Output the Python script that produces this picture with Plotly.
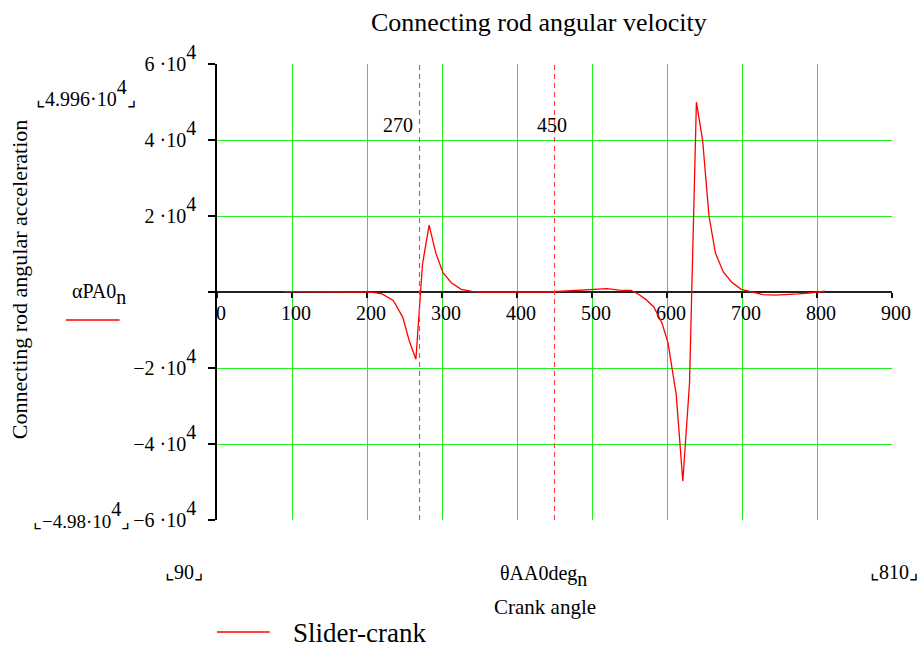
import plotly.graph_objects as go

# Crank angle samples (deg) and connecting rod angular acceleration (rad/s^2)
crank_angle = [90, 100, 120, 140, 160, 180, 200, 210, 220, 235, 247.6, 256.4, 265.2,
               274, 282.8, 291.7, 301.3, 312.4, 325.6, 340, 350, 380, 410, 440,
               460, 472, 498, 510, 520, 536, 552, 562, 572, 582.4, 593.5, 601.3,
               612.3, 621.1, 630, 639.2, 647.5, 656, 664.5, 675, 686, 699, 712,
               728, 745, 759, 775, 789, 800, 811]
alpha_rod = [100, 100, 100, 100, 100, 100, 0, -150, -500, -2200, -6600, -12900, -17700,
             7300, 17600, 10300, 5080, 2450, 700, 150, 0, 0, 0, 0,
             200, 340, 600, 650, 900, 500, 400, -600, -2000, -3950, -8300, -13300,
             -27000, -49800, -24000, 49960, 39900, 20000, 10300, 5260, 2630, 700, 0,
             -700, -800, -700, -500, -260, 0, 200]

marker_angles = [270, 450]
x_ticks = [0, 100, 200, 300, 400, 500, 600, 700, 800, 900]
y_ticks = [-60000, -40000, -20000, 0, 20000, 40000, 60000]

FONT = "Liberation Serif"
GRID = "#22ee22"
FS = 20


def sup(t, size=FS):
    # full-size raised exponent: sup shrinks to 70% of its parent, so enlarge the parent
    return "<span style='font-size:%.2fpx'><sup>%s</sup></span>" % (size / 0.7, t)


def sub(t, size=FS):
    return "<span style='font-size:%.2fpx'><sub>%s</sub></span>" % (size / 0.7, t)


def sci(m):
    return "%s \u00b710%s" % (m, sup("4")) if m else ""


y_tick_text = [sci(m) for m in ["\u22126", "\u22124", "\u22122", "", "2", "4", "6"]]

fig = go.Figure()
fig.add_trace(go.Scatter(x=crank_angle, y=alpha_rod, mode="lines",
                         line=dict(color="#ff0000", width=1.3), showlegend=False))

# dashed reference angles
for a in marker_angles:
    fig.add_shape(type="line", x0=a, x1=a, y0=-60000, y1=60000, xref="x", yref="y",
                  line=dict(color="#ff3b3b", width=1.1, dash="5px,4px"))
fig.add_annotation(x=270, y=44000, xref="x", yref="y", text=str(marker_angles[0]), showarrow=False,
                   xanchor="right", xshift=-5, font=dict(family=FONT, size=FS, color="black"))
fig.add_annotation(x=450, y=44000, xref="x", yref="y", text=str(marker_angles[1]), showarrow=False,
                   xanchor="center", xshift=-3, font=dict(family=FONT, size=FS, color="black"))

fig.update_xaxes(range=[0, 900], tickvals=x_ticks, ticktext=[str(v) for v in x_ticks],
                 anchor="free", position=0.5, showline=True, linecolor="#222222", linewidth=2,
                 ticks="outside", ticklen=5, tickcolor="#111111", tickwidth=1.5,
                 ticklabelshift=4, ticklabelstandoff=-2,
                 showgrid=True, gridcolor=GRID, gridwidth=1, zeroline=False,
                 layer="below traces",
                 tickfont=dict(family=FONT, size=FS, color="black"))
fig.update_yaxes(range=[-60000, 60000], tickvals=y_ticks, ticktext=y_tick_text,
                 showline=True, linecolor="black", linewidth=1.5,
                 ticks="outside", ticklen=7, tickcolor="black", tickwidth=1.5,
                 ticklabelstandoff=8,
                 showgrid=True, gridcolor=GRID, gridwidth=1, zeroline=False,
                 tickfont=dict(family=FONT, size=FS, color="black"))

L, T, W, H = 217, 64, 679, 456


def px(xp, yp):
    return (xp - L) / W, 1 - (yp - T) / H


def label(text, xp, yp, size=FS, xanchor="center", **kw):
    x, y = px(xp, yp)
    fig.add_annotation(text=text, x=x, y=y, xref="paper", yref="paper", showarrow=False,
                       xanchor=xanchor, yanchor="middle",
                       font=dict(family=FONT, size=size, color="black"), **kw)


label("Connecting rod angular velocity", 541, 22, size=26)
label("Connecting rod angular acceleration", 18, 280, size=22, textangle=-90)
label("\u231e4.996\u00b710" + sup("4") + "\u231f", 85, 93)
label("\u231e\u22124.98\u00b710" + sup("4") + "\u231f", 81, 515, size=19)
label("\u03b1PA0" + sub("n"), 98, 294)
label("\u231e90\u231f", 184, 572)
label("\u03b8AA0deg" + sub("n"), 545, 576)
label("\u231e810\u231f", 898, 572)
label("Crank angle", 547, 607, size=21)
label("Slider-crank", 291, 633, size=27, xanchor="left")

for (xa, xb, yp) in [(65, 119, 320), (217, 270, 632)]:
    x0, y0 = px(xa, yp)
    x1, _ = px(xb, yp)
    fig.add_shape(type="line", xref="paper", yref="paper", x0=x0, x1=x1, y0=y0, y1=y0,
                  line=dict(color="#ff0000", width=1.3))

fig.update_layout(width=923, height=649, margin=dict(l=L, r=923 - L - W, t=T, b=649 - T - H),
                  plot_bgcolor="white", paper_bgcolor="white", showlegend=False)

fig.write_html("out.html")
